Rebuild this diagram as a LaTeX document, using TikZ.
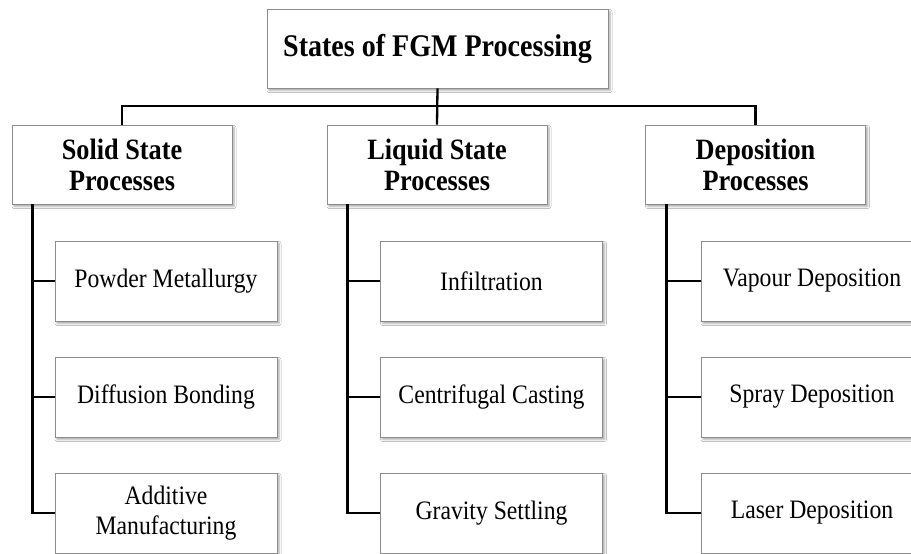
\documentclass[tikz,border=0pt]{standalone}
\usepackage{fontspec}
\setmainfont{Liberation Serif}[FakeStretch=0.89]
\usetikzlibrary{shadows.blur}
\tikzset{
  x=1pt, y=-1pt,
  boxbase/.style={draw=black!45, line width=0.8pt, fill=white, align=center,
    inner sep=0pt, blur shadow={shadow xshift=2pt, shadow yshift=-2.5pt, shadow blur steps=4, shadow blur radius=2pt, shadow opacity=35}},
  titlebox/.style={boxbase, minimum width=341pt, minimum height=79pt, font=\fontsize{31.5}{36}\selectfont\bfseries},
  catbox/.style={boxbase, minimum width=220pt, minimum height=79pt, font=\fontsize{29.5}{31}\selectfont\bfseries},
  itembox/.style={boxbase, minimum width=222pt, minimum height=80pt, font=\fontsize{26.6}{30}\selectfont},
  conn/.style={draw=black, line width=2.3pt, line join=miter}
}
\begin{document}
\begin{tikzpicture}
\useasboundingbox (0,0) rectangle (911,554);
\clip (0,0) rectangle (911,554);
\fill[white] (0,0) rectangle (911,554);
\coordinate (h) at (436.5,106);
\node[titlebox] (top) at (437.5,48.5) {States of FGM Processing};
\node[catbox] (solid) at (122,164.5) {Solid State\\Processes};
\node[catbox] (liq) at (437,164.5) {Liquid State\\Processes};
\node[catbox] (dep) at (755.5,164.5) {Deposition\\Processes};
\draw[conn] (solid.north) |- (h) -| (dep.north);
\draw[conn] (top.south) -- (liq.north);
% solid children
\node[itembox] (pm) at (166,281) {Powder Metallurgy};
\node[itembox] (db) at (166,397) {Diffusion Bonding};
\node[itembox] (am) at (166,513) {Additive\\Manufacturing};
\coordinate (s1) at ([xshift=21pt]solid.south west);
\draw[conn] (s1) |- (am.west);
\draw[conn] (pm.west) -- (pm.west -| s1);
\draw[conn] (db.west) -- (db.west -| s1);
% liquid children
\node[itembox] (inf) at (491.5,281) {Infiltration};
\node[itembox] (cc) at (491.5,397) {Centrifugal Casting};
\node[itembox] (gs) at (491.5,513) {Gravity Settling};
\coordinate (s2) at ([xshift=21pt]liq.south west);
\draw[conn] (s2) |- (gs.west);
\draw[conn] (inf.west) -- (inf.west -| s2);
\draw[conn] (cc.west) -- (cc.west -| s2);
% deposition children
\node[itembox] (vd) at (812,281) {Vapour Deposition};
\node[itembox] (sd) at (812,397) {Spray Deposition};
\node[itembox] (ld) at (812,513) {Laser Deposition};
\coordinate (s3) at ([xshift=21.5pt]dep.south west);
\draw[conn] (s3) |- (ld.west);
\draw[conn] (vd.west) -- (vd.west -| s3);
\draw[conn] (sd.west) -- (sd.west -| s3);
\end{tikzpicture}
\end{document}
